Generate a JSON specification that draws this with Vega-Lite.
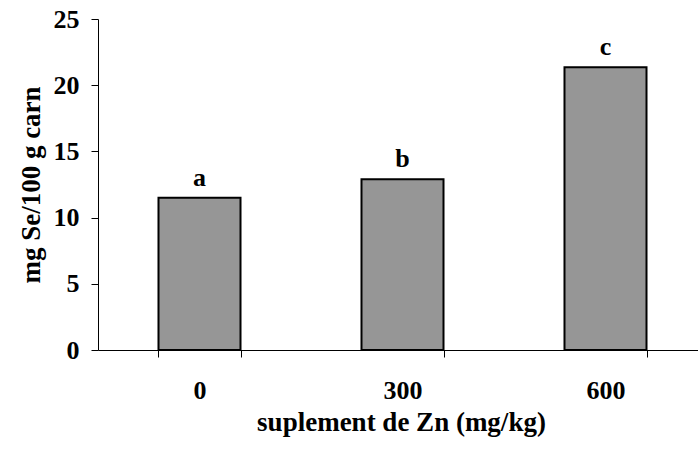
{
  "$schema": "https://vega.github.io/schema/vega-lite/v6.json",
  "width": 609,
  "height": 331,
  "autosize": {"type": "none"},
  "padding": {"left": 98, "top": 19, "right": 0, "bottom": 105},
  "background": "white",
  "config": {
    "view": {"stroke": null},
    "font": "Liberation Serif"
  },
  "data": {
    "values": [
      {"zn": "0", "se": 11.5, "grp": "a"},
      {"zn": "300", "se": 12.9, "grp": "b"},
      {"zn": "600", "se": 21.35, "grp": "c"}
    ]
  },
  "encoding": {
    "x": {
      "field": "zn",
      "type": "nominal",
      "sort": null,
      "scale": {"paddingInner": 0.596, "paddingOuter": 0.298},
      "axis": {
        "title": "suplement de Zn (mg/kg)",
        "labelAngle": 0,
        "labelFont": "Liberation Serif",
        "labelFontWeight": "bold",
        "labelFontSize": 26,
        "labelColor": "black",
        "labelPadding": 20,
        "titleFont": "Liberation Serif",
        "titleFontWeight": "bold",
        "titleFontSize": 27,
        "titleColor": "black",
        "titlePadding": 6,
        "titleX": 303,
        "domainColor": "black",
        "tickColor": "black",
        "tickSize": 7,
        "tickBand": "extent"
      }
    },
    "y": {
      "field": "se",
      "type": "quantitative",
      "scale": {"domain": [0, 25]},
      "axis": {
        "title": "mg Se/100 g carn",
        "values": [0, 5, 10, 15, 20, 25],
        "grid": false,
        "labelFont": "Liberation Serif",
        "labelFontWeight": "bold",
        "labelFontSize": 26,
        "labelColor": "black",
        "labelPadding": 12,
        "titleFont": "Liberation Serif",
        "titleFontWeight": "bold",
        "titleFontSize": 27,
        "titleColor": "black",
        "titlePadding": 8,
        "domainColor": "black",
        "tickColor": "black",
        "tickSize": 7
      }
    }
  },
  "layer": [
    {
      "mark": {"type": "bar", "color": "#969696", "stroke": "black", "strokeWidth": 2}
    },
    {
      "mark": {"type": "text", "baseline": "alphabetic", "dy": -12, "font": "Liberation Serif", "fontWeight": "bold", "fontSize": 26, "color": "black"},
      "encoding": {"text": {"field": "grp"}}
    }
  ]
}
